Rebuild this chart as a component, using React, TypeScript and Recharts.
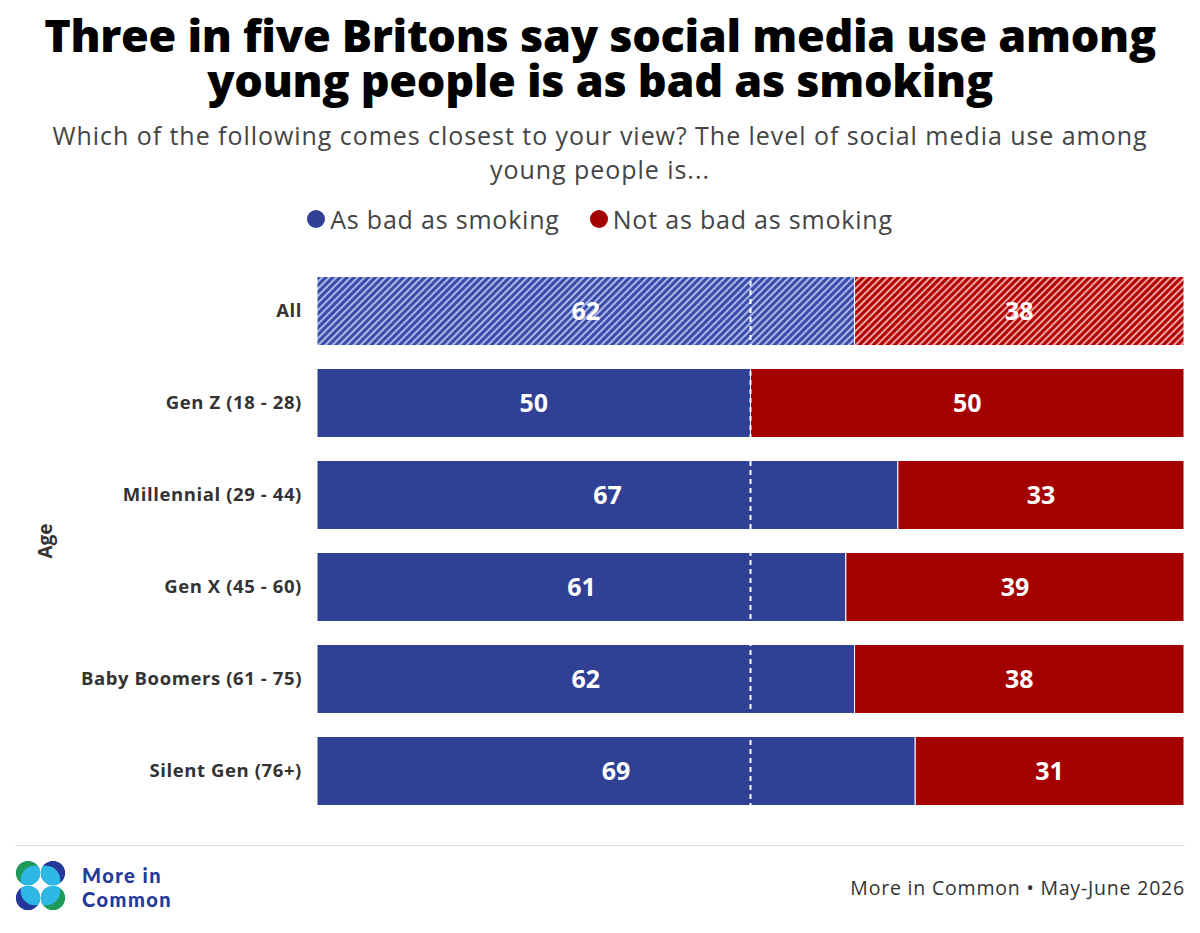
import React from "react";
import { BarChart, Bar, XAxis, YAxis, Cell, LabelList, ReferenceLine } from "recharts";

const groups = ["All", "Gen Z (18 - 28)", "Millennial (29 - 44)", "Gen X (45 - 60)", "Baby Boomers (61 - 75)", "Silent Gen (76+)"];
const asBad = [62, 50, 67, 61, 62, 69];
const notAsBad = [38, 50, 33, 39, 38, 31];

const BLUE = "#2F4095";
const RED = "#A50000";

const data = groups.map((name, i) => ({ name, asBad: asBad[i], notAsBad: notAsBad[i] }));

const font = "'Open Sans', Lato, sans-serif";

function AgeTick(props: any) {
  const { x, y, payload } = props;
  return (
    <text x={x - 7} y={y} dy={6} textAnchor="end" fontFamily={font} fontWeight={700} fontSize={18.5} letterSpacing={0.6} fill="#333">
      {payload.value}
    </text>
  );
}

function Logo() {
  const r = 12.3;
  const pts = [
    { cx: 28, cy: 873, c: "#1E9A5A", dx: 7, dy: 7 },
    { cx: 53, cy: 873, c: "#24399A", dx: -7, dy: 7 },
    { cx: 28, cy: 898, c: "#24399A", dx: 7, dy: -7 },
    { cx: 53, cy: 898, c: "#1E9A5A", dx: -7, dy: -7 },
  ];
  return (
    <svg width={1200} height={933} style={{ position: "absolute", left: 0, top: 0, pointerEvents: "none" }}>
      <defs>
        {pts.map((p, i) => (
          <clipPath id={`lc${i}`} key={i}>
            <circle cx={p.cx} cy={p.cy} r={r} />
          </clipPath>
        ))}
      </defs>
      {pts.map((p, i) => (
        <g key={i} clipPath={`url(#lc${i})`}>
          <circle cx={p.cx} cy={p.cy} r={r} fill={p.c} />
          <circle cx={p.cx + p.dx} cy={p.cy + p.dy} r={r + 2} fill="#2DB8E6" />
        </g>
      ))}
    </svg>
  );
}

export default function App() {
  return (
    <div style={{ position: "relative", width: 1200, height: 933, margin: -8, background: "#fff", fontFamily: font, overflow: "hidden" }}>
      <div style={{ position: "absolute", top: 12, left: 0, width: 1200, textAlign: "center", fontSize: 45, fontWeight: 800, lineHeight: "45px", color: "#000", letterSpacing: -0.3 }}>
        Three in five Britons say social media use among
        <br />
        young people is as bad as smoking
      </div>
      <div style={{ position: "absolute", top: 118, left: 0, width: 1200, textAlign: "center", fontSize: 25, lineHeight: "34px", color: "#444", letterSpacing: 0.95 }}>
        Which of the following comes closest to your view? The level of social media use among
        <br />
        young people is...
      </div>
      <div style={{ position: "absolute", top: 202, left: 0, width: 1200, display: "flex", justifyContent: "center", fontSize: 25, color: "#444", alignItems: "center", letterSpacing: 0.8 }}>
        <span style={{ display: "inline-block", width: 18, height: 18, borderRadius: 9, background: BLUE, marginRight: 5 }} />
        <span style={{ marginRight: 30 }}>As bad as smoking</span>
        <span style={{ display: "inline-block", width: 18, height: 18, borderRadius: 9, background: RED, marginRight: 5 }} />
        <span>Not as bad as smoking</span>
      </div>
      <div style={{ position: "absolute", left: 45, top: 541, transform: "translate(-50%, -50%) rotate(-90deg)", fontSize: 19, fontWeight: 700, color: "#333" }}>
        Age
      </div>
      <div style={{ position: "absolute", left: 0, top: 0 }}>
        <BarChart width={1200} height={933} data={data} layout="vertical" margin={{ top: 265, right: 16, bottom: 116, left: 0 }} barCategoryGap="12.5%">
          <defs>
            <pattern id="hatchBlue" patternUnits="userSpaceOnUse" width="5" height="5" patternTransform="rotate(45)">
              <rect width="5" height="5" fill="#A8B6EC" />
              <rect width="3" height="5" fill="#3A4CA6" />
            </pattern>
            <pattern id="hatchRed" patternUnits="userSpaceOnUse" width="5" height="5" patternTransform="rotate(45)">
              <rect width="5" height="5" fill="#F0A0A0" />
              <rect width="3" height="5" fill="#B00000" />
            </pattern>
          </defs>
          <XAxis type="number" domain={[0, 100]} hide />
          <YAxis type="category" dataKey="name" width={317} axisLine={false} tickLine={false} tick={<AgeTick />} />
          <Bar dataKey="asBad" stackId="a" fill={BLUE} stroke="#fff" strokeWidth={1} isAnimationActive={false}>
            {data.map((d, i) => (
              <Cell key={d.name} fill={i === 0 ? "url(#hatchBlue)" : BLUE} />
            ))}
            <LabelList dataKey="asBad" position="center" fill="#fff" fontSize={25} fontWeight={700} fontFamily={font} />
          </Bar>
          <Bar dataKey="notAsBad" stackId="a" fill={RED} stroke="#fff" strokeWidth={1} isAnimationActive={false}>
            {data.map((d, i) => (
              <Cell key={d.name} fill={i === 0 ? "url(#hatchRed)" : RED} />
            ))}
            <LabelList dataKey="notAsBad" position="center" fill="#fff" fontSize={25} fontWeight={700} fontFamily={font} />
          </Bar>
          <ReferenceLine x={50} stroke="#fff" strokeWidth={2} strokeDasharray="5 4" />
        </BarChart>
      </div>
      <div style={{ position: "absolute", left: 15, top: 845, width: 1170, height: 1, background: "#ddd" }} />
      <Logo />
      <div style={{ position: "absolute", left: 82, top: 863, fontFamily: "Lato, sans-serif", fontSize: 20, fontWeight: 900, lineHeight: "24px", letterSpacing: 1.5, color: "#24399A" }}>
        More in
        <br />
        Common
      </div>
      <div style={{ position: "absolute", right: 15, top: 874, fontSize: 19.5, color: "#333", letterSpacing: 0.8 }}>More in Common • May-June 2026</div>
    </div>
  );
}
